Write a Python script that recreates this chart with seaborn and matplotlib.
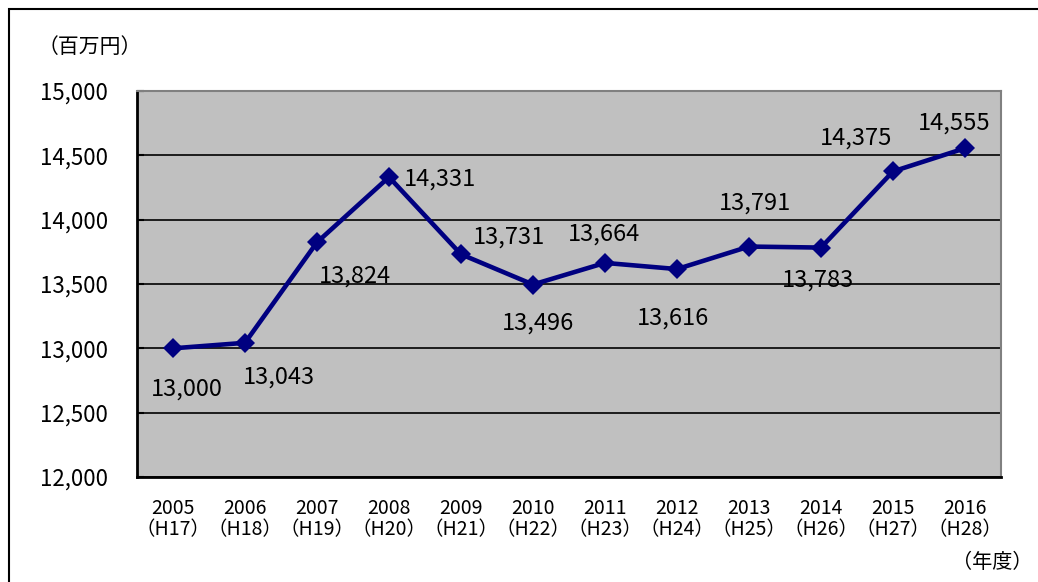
import matplotlib
matplotlib.use("Agg")
import matplotlib.pyplot as plt
from matplotlib.patches import Rectangle
from matplotlib.ticker import FuncFormatter, MultipleLocator
import pandas as pd
import seaborn as sns

# data
years = ["2005", "2006", "2007", "2008", "2009", "2010",
         "2011", "2012", "2013", "2014", "2015", "2016"]
heisei = ["H17", "H18", "H19", "H20", "H21", "H22",
          "H23", "H24", "H25", "H26", "H27", "H28"]
values = [13000, 13043, 13824, 14331, 13731, 13496,
          13664, 13616, 13791, 13783, 14375, 14555]

# label offsets in pixels (dx, dy up)
label_offsets = [(14, -41), (34, -34), (38, -34), (51, -2), (48, 17), (5, -39),
                 (-1, 29), (-4, -49), (6, 43), (-3, -33), (-37, 33), (-11, 25)]

sns.set_style("white")
plt.rcParams["font.family"] = ["Noto Sans CJK JP", "DejaVu Sans"]
plt.rcParams["text.color"] = "black"
plt.rcParams["xtick.color"] = "black"
plt.rcParams["ytick.color"] = "black"

df = pd.DataFrame({"idx": range(len(years)), "value": values})

fig = plt.figure(figsize=(10.38, 5.82), dpi=100)
ax = fig.add_axes([137 / 1038, 1 - 477 / 582, 864 / 1038, 386 / 582])
ax.set_facecolor("#C0C0C0")

sns.lineplot(data=df, x="idx", y="value", ax=ax, color="#000080",
             linewidth=3.3, marker="D", markersize=10, markeredgewidth=0)

ax.set_xlim(-0.5, len(years) - 0.5)
ax.set_ylim(12000, 15000)
ax.yaxis.set_major_locator(MultipleLocator(500))
ax.yaxis.set_major_formatter(FuncFormatter(lambda v, p: f"{int(v):,}"))
ax.grid(axis="y", color="black", linewidth=1.2)
ax.set_axisbelow(True)

ax.set_xticks(range(len(years)))
ax.set_xticklabels([f"{y}\n（{h}）" for y, h in zip(years, heisei)],
                   fontsize=14, linespacing=1.05)
ax.set_xticks([i - 0.5 for i in range(len(years) + 1)], minor=True)
ax.tick_params(axis="x", which="major", length=0, pad=15)
ax.tick_params(axis="x", which="minor", direction="in", length=5, width=1.5, color="black")
ax.tick_params(axis="y", direction="in", length=5, width=1.5, color="black",
               labelsize=16, pad=21, left=True)
ax.set_xlabel("")
ax.set_ylabel("")

for s in ["left", "bottom"]:
    ax.spines[s].set_color("black")
    ax.spines[s].set_linewidth(2)
for s in ["top", "right"]:
    ax.spines[s].set_color("#808080")
    ax.spines[s].set_linewidth(1.5)

for i, v in enumerate(values):
    dx, dy = label_offsets[i]
    ax.annotate(f"{v:,}", (i, v), xytext=(dx * 0.72, dy * 0.72),
                textcoords="offset points", ha="center", va="center", fontsize=17)

fig.text(38 / 1038, 1 - 47 / 582, "（百万円）", fontsize=15, ha="left", va="center")
fig.text(1032 / 1038, 1 - 563 / 582, "（年度）", fontsize=14.5, ha="right", va="center")

# outer chart border
fig.patches.append(Rectangle((9 / 1038, -0.1), 1.2, 1 - 9 / 582 + 0.1,
                             transform=fig.transFigure, fill=False,
                             edgecolor="black", linewidth=1.5))

fig.savefig("out.png", dpi=100)
